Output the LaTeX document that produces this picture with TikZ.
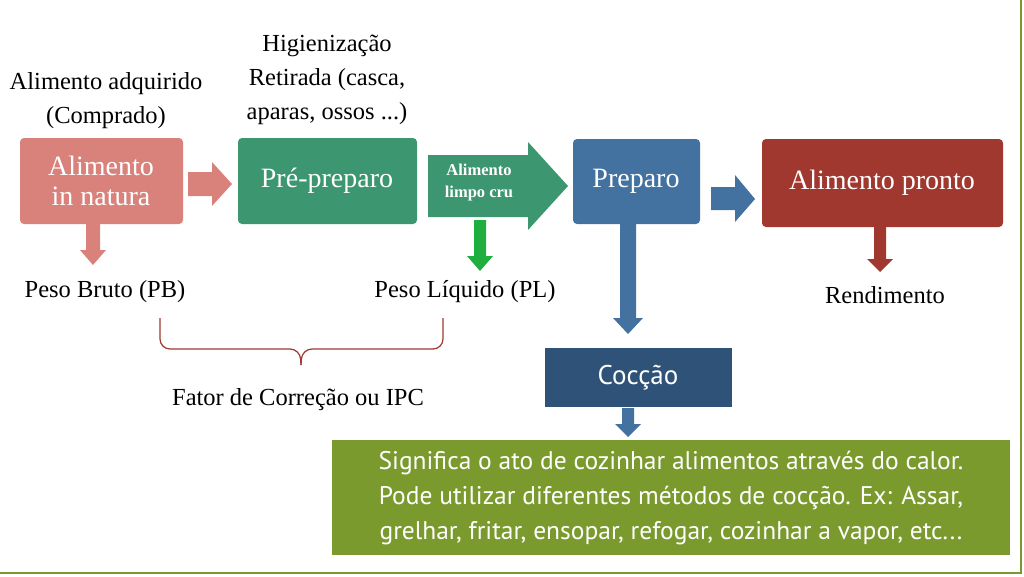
\documentclass[tikz,border=0pt]{standalone}
\usepackage{fontspec}
\setmainfont{Liberation Serif}
\newfontfamily\sansf{PT Sans}
\definecolor{cpink}{HTML}{D9827B}
\definecolor{cgreen}{HTML}{3C9670}
\definecolor{cblue}{HTML}{4472A0}
\definecolor{cred}{HTML}{A0382F}
\definecolor{cdblue}{HTML}{2F5278}
\definecolor{colive}{HTML}{7A9A2E}
\definecolor{cbrace}{HTML}{A0382F}
\definecolor{cbright}{HTML}{1FAF3F}
\tikzset{
  blk/.style={text=white, align=center, font=\fontsize{28}{30}\selectfont},
  lbl/.style={align=center, font=\fontsize{24.5}{34}\selectfont},
}
\begin{document}
\begin{tikzpicture}[x=1pt,y=-1pt]
\useasboundingbox (0,0) rectangle (1024,576);
\fill[white] (0,0) rectangle (1024,576);
\draw[colive,line width=2pt] (0,573) -- (1021,573) -- (1021,0);
% boxes
\fill[cpink,rounded corners=4pt] (20,138) rectangle (183,224);
\node[blk] (b1) at (101,181) {Alimento\\in natura};
\fill[cgreen,rounded corners=4pt] (238,138) rectangle (417,224);
\node[blk] (b2) at (327,181) {Pré-preparo};
\fill[cblue,rounded corners=4pt] (573,139) rectangle (700,224);
\node[blk] (b3) at (636,181) {Preparo};
\fill[cred,rounded corners=4pt] (762,139) rectangle (1003,227);
\node[blk] (b4) at (882,183) {Alimento pronto};
% right arrows
\fill[cpink] (188,172) -- (212,172) -- (212,162) -- (232,184) -- (212,206) -- (212,196) -- (188,196) -- cycle;
\fill[cgreen] (428,155) -- (528,155) -- (528,142) -- (568,186) -- (528,230) -- (528,217) -- (428,217) -- cycle;
\node[text=white,font=\bfseries\fontsize{16.5}{22}\selectfont,align=center] (ga) at (479,183) {Alimento\\limpo cru};
\fill[cblue] (711,187) -- (735,187) -- (735,175) -- (755,199) -- (735,222) -- (735,210) -- (711,210) -- cycle;
% down arrows
\fill[cpink] (86,224) -- (100,224) -- (100,250) -- (106,250) -- (93,265) -- (80,250) -- (86,250) -- cycle;
\fill[cbright] (474,220) -- (486,220) -- (486,256) -- (493,256) -- (480,271) -- (467,256) -- (474,256) -- cycle;
\fill[cblue] (620,224) -- (636,224) -- (636,318) -- (643,318) -- (628,334) -- (613,318) -- (620,318) -- cycle;
\fill[cred] (874,227) -- (886,227) -- (886,259) -- (893,259) -- (880,272) -- (867,259) -- (874,259) -- cycle;
\fill[cblue] (622,408) -- (634,408) -- (634,424) -- (641,424) -- (628,437) -- (615,424) -- (622,424) -- cycle;
% labels
\node[lbl] (t1) at (106,101) {Alimento adquirido\\(Comprado)};
\node[lbl] (t2) at (327,80) {Higienização\\Retirada (casca,\\aparas, ossos ...)};
\node[lbl] (pb) at (105,292) {Peso Bruto (PB)};
\node[lbl] (pl) at (465,292) {Peso Líquido (PL)};
\node[lbl] (rd) at (885,295) {Rendimento};
\draw[cbrace,line width=1.2pt,rounded corners=10pt] (160,318) -- (160,349) -- (300,349) -- (301,365);
\draw[cbrace,line width=1.2pt,rounded corners=10pt] (443,318) -- (443,349) -- (302,349) -- (301,365);
\node[lbl] (fc) at (298,400) {Fator de Correção ou IPC};
% coccao
\fill[cdblue] (545,348) rectangle (732,407);
\node[text=white,font=\sansf\fontsize{27}{30}\selectfont] (cc) at (638,378) {Cocção};
\fill[colive] (332,440) rectangle (1010,555);
\node[text=white,align=center,font=\sansf\fontsize{25.5}{35}\selectfont] (tx) at (671,498) {Significa o ato de cozinhar alimentos através do calor.\\Pode utilizar diferentes métodos de cocção. Ex: Assar,\\grelhar, fritar, ensopar, refogar, cozinhar a vapor, etc...};
\end{tikzpicture}
\end{document}
